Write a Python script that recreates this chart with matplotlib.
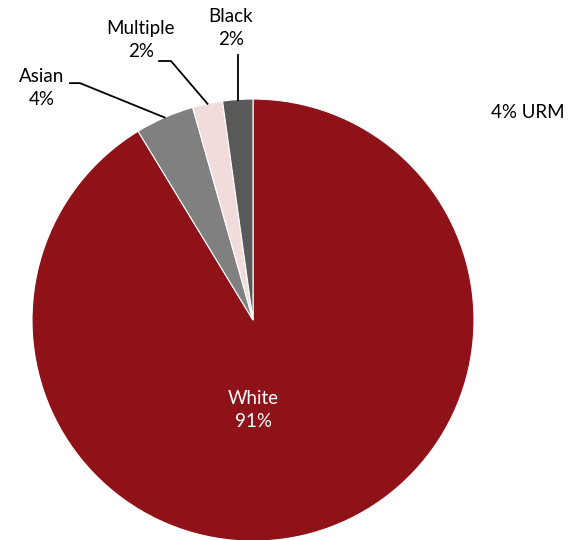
import numpy as np
import matplotlib.pyplot as plt

# race / ethnicity shares (percent)
groups  = ['White', 'Asian', 'Multiple', 'Black']
shares  = [91.3, 4.3, 2.2, 2.2]
labels  = ['White\n91%', 'Asian\n4%', 'Multiple\n2%', 'Black\n2%']
colors  = ['#8f1218', '#808080', '#f2dcdb', '#595959']
note    = '4% URM'

plt.rcParams['font.family'] = ['Lato', 'DejaVu Sans']
fs = 13.5

fig = plt.figure(figsize=(5.75, 5.4), dpi=100)
ax = fig.add_axes([0, 0, 1, 1])

wedges, _ = ax.pie(shares, colors=colors, startangle=90, counterclock=False,
                   wedgeprops=dict(edgecolor='white', linewidth=0.8))

# label positions (data units, pie radius = 1)
ax.text(0, -0.407, labels[0], color='white', ha='center', va='center',
        fontsize=fs, linespacing=1.4)

def edge_point(w):
    a = np.deg2rad((w.theta1 + w.theta2) / 2)
    return np.cos(a), np.sin(a)

# Asian
x0, y0 = edge_point(wedges[1])
ax.plot([x0, -0.783, -0.828], [y0, 1.072, 1.072], color='black', lw=1.3)
ax.text(-0.955, 1.05, labels[1], ha='center', va='center', fontsize=fs, linespacing=1.4)

# Multiple
x0, y0 = edge_point(wedges[2])
ax.plot([x0, -0.371, -0.425], [y0, 1.172, 1.172], color='black', lw=1.3)
ax.text(-0.507, 1.267, labels[2], ha='center', va='center', fontsize=fs, linespacing=1.4)

# Black
x0, y0 = edge_point(wedges[3])
ax.plot([x0, x0], [y0, 1.199], color='black', lw=1.3)
ax.text(-0.10, 1.32, labels[3], ha='center', va='center', fontsize=fs, linespacing=1.4)

ax.text(1.244, 0.937, note, ha='center', va='center', fontsize=fs)

ax.set_xlim(-1.1448, 1.457)
ax.set_ylim(-0.995, 1.448)
ax.set_aspect('auto')
ax.axis('off')

fig.savefig('out.png', dpi=100)
